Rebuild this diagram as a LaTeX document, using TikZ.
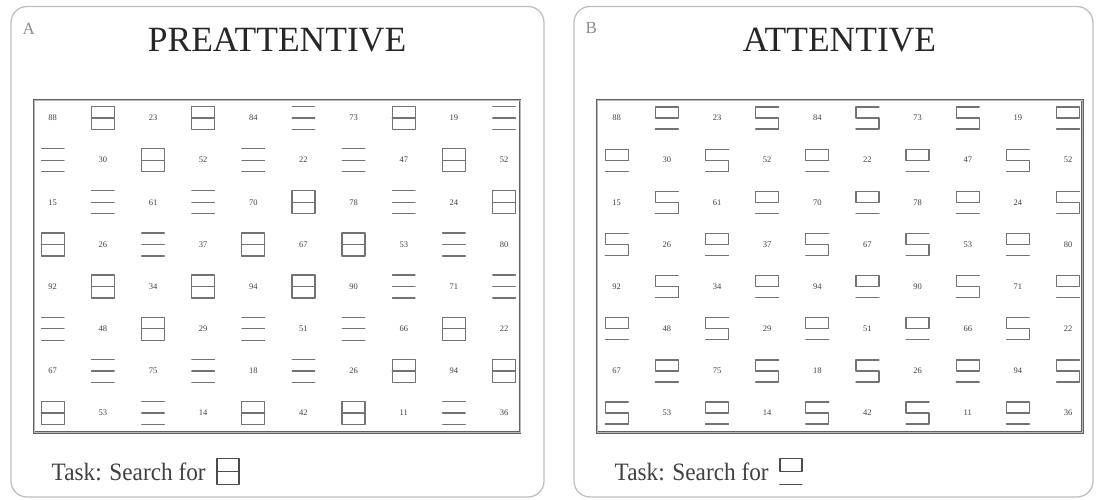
\documentclass[tikz,border=0pt]{standalone}
\usepackage{fontspec}
\usepackage{graphicx}
\setmainfont{Liberation Serif}
\usetikzlibrary{calc}
\tikzset{
  glyph/.style={draw=black!55, line width=1.25pt, line cap=round, line join=round},
  glB/.pic={\draw[glyph] (-11.5,-11.5) rectangle (11.5,11.5); \draw[glyph] (-11.5,0) -- (11.5,0);},
  glL/.pic={\draw[glyph] (-11.3,-11.5) -- (11.3,-11.5) (-11.3,0) -- (11.3,0) (-11.3,11.5) -- (11.3,11.5);},
  glR/.pic={\draw[glyph] (-11.5,-11) rectangle (11.5,0); \draw[glyph] (-11.5,11) -- (11.5,11);},
  glS/.pic={\draw[glyph] (11.5,-11) -- (-11.5,-11) -- (-11.5,0) -- (11.5,0) -- (11.5,11) -- (-11.5,11);},
  tkB/.pic={\draw[glyph, draw=black!70, line width=1.5pt] (-11,-13) rectangle (11,13); \draw[glyph, draw=black!70, line width=1.5pt] (-11,0) -- (11,0);},
  tkR/.pic={\draw[glyph, draw=black!70, line width=1.5pt] (-11,-13) rectangle (11,0); \draw[glyph, draw=black!70, line width=1.5pt] (-11,13) -- (11,13);},
  num/.style={font=\fontsize{8.5}{8.5}\selectfont, text=black!75, inner sep=0pt},
  panel/.style={draw=black!25, line width=1.3pt, rounded corners=16pt},
  gridbox/.style={draw=black!62, double=black!28, line width=0.9pt, double distance=0.8pt},
  title/.style={font=\fontsize{35.5}{36}\selectfont, text=black!85, inner sep=0pt},
  lab/.style={font=\fontsize{17}{17}\selectfont, text=black!45, inner sep=0pt},
  task/.style={font=\fontsize{25}{25}\selectfont, text=black!75, inner sep=0pt},
}
\newcommand\mygrid[3]{%
  \foreach \v [count=\i from 0] in {#3}{%
    \pgfmathtruncatemacro\rr{div(\i,10)}%
    \pgfmathtruncatemacro\cc{mod(\i,10)}%
    \pgfmathtruncatemacro\pp{mod(\rr+\cc,2)}%
    \pgfmathsetmacro\xx{#2+\cc*50.15}%
    \pgfmathsetmacro\yy{118+\rr*42.15}%
    \ifnum\pp=0
      \node[num] (#1n\i) at (\xx,\yy) {\v};
    \else
      \edef\tmp{\noexpand\pic at (\xx,\yy) {gl\v};}\tmp
    \fi
  }%
}
\begin{document}
\begin{tikzpicture}[x=1pt,y=-1pt]
\useasboundingbox (0,0) rectangle (1099,500);
% panels
\draw[panel] (11,6.5) rectangle (544,497);
\draw[panel] (574,6.5) rectangle (1093,497);
% labels and titles
\node[lab, anchor=base west] (labA) at (22.5,34.5) {A};
\node[lab, anchor=base west] (labB) at (585.5,33.5) {B};
\node[title, anchor=base] (titA) at (277,52) {PREATTENTIVE};
\node[title, anchor=base] (titB) at (839.5,52) {ATTENTIVE};
% grid boxes
\draw[gridbox] (34,100) rectangle (520,432.5);
\draw[gridbox] (597,100) rectangle (1082.5,432.5);
% grid contents
\mygrid{A}{52.7}{88,B,23,B,84,L,73,B,19,L,
L,30,B,52,L,22,L,47,B,52,
15,L,61,L,70,B,78,L,24,B,
B,26,L,37,B,67,B,53,L,80,
92,B,34,B,94,B,90,L,71,L,
L,48,B,29,L,51,L,66,B,22,
67,L,75,L,18,L,26,B,94,B,
B,53,L,14,B,42,B,11,L,36}
\mygrid{B}{616.7}{88,R,23,S,84,S,73,S,19,R,
R,30,S,52,R,22,R,47,S,52,
15,S,61,R,70,R,78,R,24,S,
S,26,R,37,S,67,S,53,R,80,
92,S,34,R,94,R,90,S,71,R,
R,48,S,29,R,51,R,66,S,22,
67,R,75,S,18,S,26,R,94,S,
S,53,R,14,S,42,S,11,R,36}
% task lines
\node[task, anchor=base west] (taskA) at (51.5,480.5) {\scalebox{0.93}[1]{Task: Search for}};
\node[task, anchor=base west] (taskB) at (614.5,480.5) {\scalebox{0.93}[1]{Task: Search for}};
\pic at ($(taskA.base east)+(22,-9)$) {tkB};
\pic at ($(taskB.base east)+(22,-9)$) {tkR};
\end{tikzpicture}
\end{document}
